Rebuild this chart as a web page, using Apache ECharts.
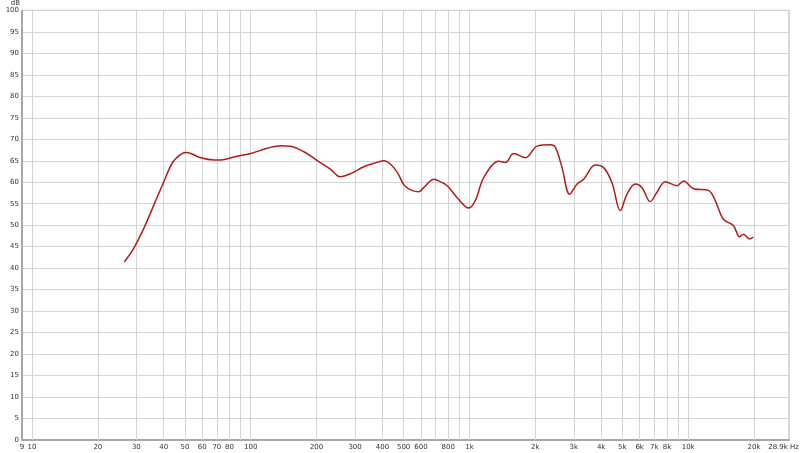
<!DOCTYPE html>
<html>
<head>
<meta charset="utf-8">
<script src="https://cdn.jsdelivr.net/npm/echarts@6/dist/echarts.min.js"></script>
<style>html,body{margin:0;padding:0;background:#fff}#c{width:800px;height:453px}</style>
</head>
<body>
<div id="c"></div>
<script>
const freqs = [26.4,29.3,32.6,36.2,40.2,43.9,47.9,50.5,53.2,59.1,68,73,83.9,100,119,137,152,175,202,232,256,286,329,366,406,436,468,510,587,619,688,738,791,879,993,1065,1162,1361,1459,1593,1803,2038,2345,2472,2650,2871,3104,3327,3758,4106,4484,4891,5248,5727,6143,6704,7190,7852,8876,9521,10580,12380,13280,14490,16110,17150,17910,19050,19870];
const db = [41.4,44.8,49.5,54.9,60.3,64.6,66.5,66.9,66.7,65.7,65.2,65.2,65.9,66.7,67.9,68.5,68.4,67.1,65.0,63.0,61.3,62.0,63.6,64.4,65.0,64.2,62.3,59.0,57.8,58.8,60.7,60.1,59.2,56.4,54.0,55.8,61.1,64.9,64.6,66.7,65.7,68.4,68.7,68.1,63.4,57.2,59.6,60.7,64.0,63.4,59.9,53.4,57.2,59.6,58.8,55.5,57.6,60.1,59.2,60.3,58.5,58.1,55.8,51.4,49.9,47.3,47.9,46.8,47.2];
const tickFreqs = [9,10,20,30,40,50,60,70,80,100,200,300,400,500,600,800,1000,2000,3000,4000,5000,6000,7000,8000,10000,20000,28900];
const tickLabels = ['9','10','20','30','40','50','60','70','80','100','200','300','400','500','600','800','1k','2k','3k','4k','5k','6k','7k','8k','10k','20k','28.9k Hz'];
const gridFreqs = [10,20,30,40,50,60,70,80,90,100,200,300,400,500,600,700,800,900,1000,2000,3000,4000,5000,6000,7000,8000,9000,10000,20000];

const FONT = 'DejaVu Sans';
const chart = echarts.init(document.getElementById('c'), null, {renderer:'canvas'});
const last = tickLabels.length - 1;
chart.setOption({
  animation: false,
  backgroundColor: '#fff',
  grid: {left: 22, right: 11, top: 9, bottom: 13, show: true, borderColor: '#b0b0b0', borderWidth: 1, backgroundColor: '#fff'},
  xAxis: {
    type: 'log', logBase: 10, min: 9, max: 28900,
    axisLine: {show: true, lineStyle: {color: '#a8a8a8', width: 2}},
    axisTick: {show: false}, axisLabel: {show: false}, splitLine: {show: false}
  },
  yAxis: {
    type: 'value', min: 0, max: 100, interval: 5,
    name: 'dB', nameLocation: 'end', nameGap: 1,
    nameTextStyle: {fontSize: 7, color: '#333', fontFamily: FONT, align: 'right', padding: [0, 2, 0, 0]},
    axisLine: {show: true, lineStyle: {color: '#a8a8a8', width: 2}},
    axisTick: {show: false},
    axisLabel: {fontSize: 7, color: '#333', fontFamily: FONT, margin: 3},
    splitLine: {lineStyle: {color: '#d4d4d4', width: 1}}
  },
  series: [
    {
      type: 'line', data: [], z: 1, silent: true,
      markLine: {
        silent: true, symbol: 'none', animation: false,
        label: {show: false},
        lineStyle: {color: '#d4d4d4', width: 1, type: 'solid'},
        data: gridFreqs.map(f => ({xAxis: f}))
      }
    },
    {
      type: 'custom', silent: true, clip: false, z: 3,
      data: tickFreqs.map((f, i) => [f, 0, i]),
      renderItem: function (params, api) {
        const p = api.coord([api.value(0), 0]);
        const i = api.value(2);
        return {
          type: 'text',
          style: {
            text: tickLabels[i],
            x: i === last ? 799 : p[0],
            y: p[1] + 7,
            align: i === last ? 'right' : 'center',
            verticalAlign: 'middle',
            fontSize: 7, fill: '#333', fontFamily: FONT
          }
        };
      }
    },
    {
      type: 'line', z: 5,
      data: freqs.map((f, i) => [f, db[i]]),
      showSymbol: false, smooth: 0.35,
      lineStyle: {color: '#b31b1b', width: 1.5}
    }
  ]
});
</script>
</body>
</html>
